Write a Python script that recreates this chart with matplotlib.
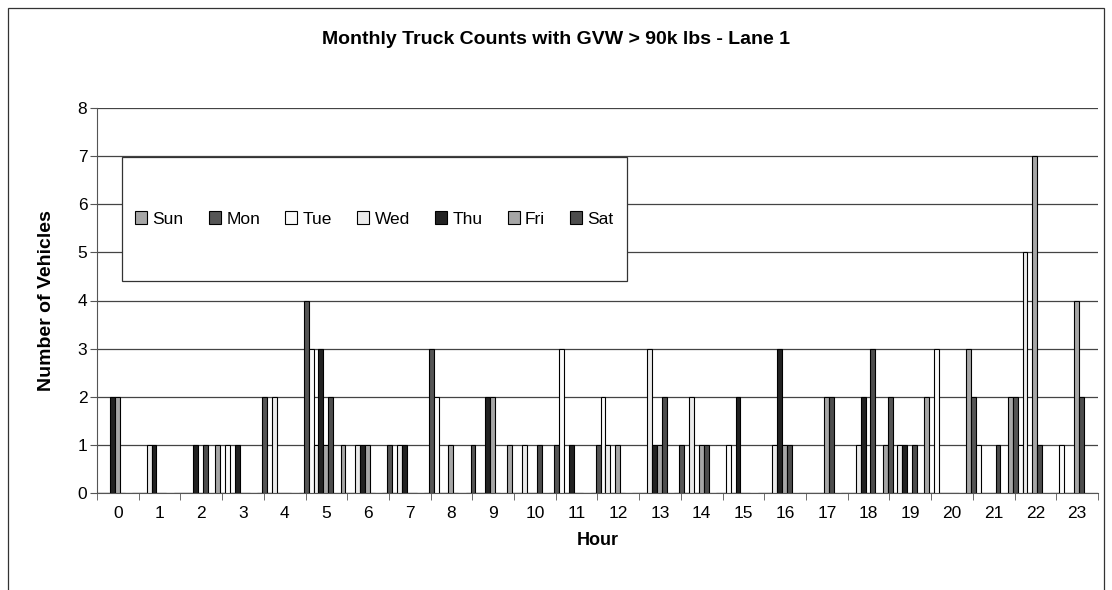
import numpy as np
import matplotlib
matplotlib.use("Agg")
import matplotlib.pyplot as plt
from matplotlib.patches import Rectangle

plt.rcParams["font.family"] = ["Liberation Sans", "DejaVu Sans"]

hours = list(range(24))
days = ["Sun", "Mon", "Tue", "Wed", "Thu", "Fri", "Sat"]

sun = [0, 0, 0, 1, 0, 0, 1, 0, 0, 0, 1, 0, 0, 0, 0, 0, 0, 0, 0, 1, 2, 3, 2, 0]
mon = [0, 0, 0, 0, 2, 4, 0, 1, 3, 1, 0, 1, 1, 0, 1, 0, 0, 0, 0, 2, 0, 2, 2, 0]
tue = [0, 0, 0, 1, 0, 3, 0, 0, 2, 0, 0, 3, 2, 0, 0, 1, 0, 0, 0, 0, 3, 1, 1, 1]
wed = [0, 1, 0, 0, 2, 1, 1, 1, 0, 0, 1, 0, 1, 3, 2, 0, 1, 0, 1, 1, 0, 0, 5, 0]
thu = [2, 1, 1, 1, 0, 3, 1, 1, 0, 2, 0, 1, 0, 1, 0, 2, 3, 0, 2, 1, 0, 0, 0, 0]
fri = [2, 0, 0, 0, 0, 1, 1, 0, 1, 2, 0, 0, 1, 1, 1, 0, 1, 2, 0, 0, 0, 0, 7, 4]
sat = [0, 0, 1, 0, 0, 2, 0, 0, 0, 0, 1, 0, 0, 2, 1, 0, 1, 2, 3, 1, 0, 1, 1, 2]

series = [sun, mon, tue, wed, thu, fri, sat]
colors = ["#A6A6A6", "#555555", "#FAFAFA", "#EBEBEB", "#222222", "#A6A6A6", "#4D4D4D"]

W, H = 1112, 590
fig = plt.figure(figsize=(W / 100, H / 100), dpi=100)
left, right, top, bottom = 97, 1098, 108, 493
ax = fig.add_axes([left / W, 1 - bottom / H, (right - left) / W, (bottom - top) / H])

bw = 1 / 8.5
shift = -0.25  # clusters sit a bit left of the hour labels in the original
x = np.arange(len(hours))
handles = []
for d, (vals, col) in enumerate(zip(series, colors)):
    b = ax.bar(x + shift + (d - 3) * bw, vals, width=bw, color=col, edgecolor="black",
               linewidth=0.8, label=days[d], zorder=3)
    handles.append(b)

ax.set_xlim(-0.5, 23.5)
ax.set_ylim(0, 8)
ax.set_yticks(range(0, 9))
ax.set_xticks(x)
ax.set_xticklabels([str(h) for h in hours], fontsize=12.5)
ax.set_xticks(np.arange(-0.5, 24, 1), minor=True)
ax.tick_params(axis="x", which="major", length=0, pad=9)
ax.tick_params(axis="x", which="minor", length=5, direction="out", color="#555555")
ax.tick_params(axis="y", length=5, direction="out", labelsize=12.5, color="#555555", pad=2)
ax.grid(axis="y", color="#444444", linewidth=0.9, zorder=0)
ax.spines["top"].set_visible(False)
ax.spines["right"].set_visible(False)
ax.spines["left"].set_color("#555555")
ax.spines["bottom"].set_color("#555555")
ax.set_axisbelow(True)

ax.set_xlabel("Hour", fontsize=13, fontweight="bold", labelpad=8)
ax.set_ylabel("Number of Vehicles", fontsize=14, fontweight="bold", labelpad=16)

# legend: tall box with one row of entries
lx0, lx1, ly0, ly1 = 122, 627, 157, 281
bx = (lx0 - left) / (right - left)
bwid = (lx1 - lx0) / (right - left)
by = (bottom - ly1) / (bottom - top)
bh = (ly1 - ly0) / (bottom - top)
ax.add_patch(Rectangle((bx, by), bwid, bh, transform=ax.transAxes,
                       facecolor="white", edgecolor="#333333", linewidth=0.9, zorder=5))
leg = ax.legend(handles=handles, ncol=7, frameon=False, fontsize=12.5,
                loc="center", bbox_to_anchor=(bx + bwid / 2, by + bh / 2),
                handlelength=0.7, handleheight=0.7, handletextpad=0.3,
                columnspacing=1.45)
leg.set_zorder(6)

fig.text(0.5, 1 - 40 / H, "Monthly Truck Counts with GVW > 90k lbs - Lane 1",
         ha="center", va="center", fontsize=14, fontweight="bold")

fig.patches.append(Rectangle((8 / W, -0.05), 1096 / W, 1.05 - 8 / H,
                             transform=fig.transFigure, fill=False,
                             edgecolor="#333333", linewidth=0.9))

plt.savefig("out.png", dpi=100)
plt.close(fig)
